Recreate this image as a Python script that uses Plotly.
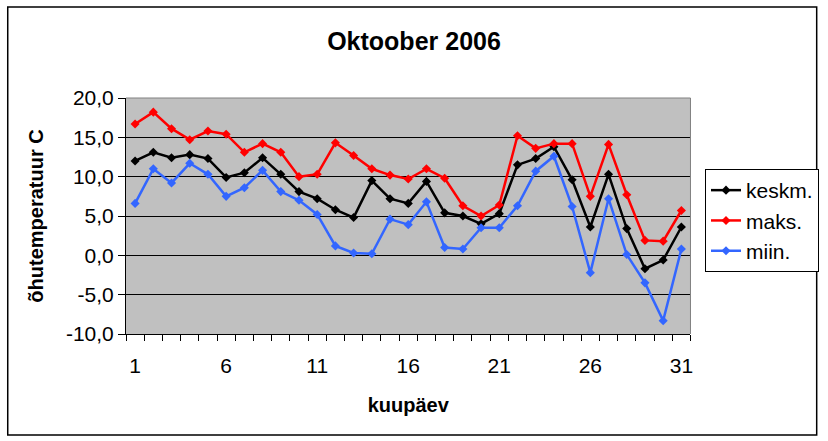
import plotly.graph_objects as go

# Oktoober 2006 - õhutemperatuur
paevad = list(range(1, 32))

keskm = [12.0, 13.1, 12.4, 12.8, 12.3, 9.9, 10.5, 12.4, 10.3, 8.1,
         7.2, 5.8, 4.8, 9.5, 7.2, 6.6, 9.4, 5.4, 5.0, 4.0,
         5.3, 11.5, 12.3, 13.8, 9.6, 3.6, 10.3, 3.4, -1.7, -0.6, 3.6]
maks = [16.7, 18.2, 16.1, 14.7, 15.8, 15.4, 13.1, 14.2, 13.1, 10.0,
        10.3, 14.3, 12.7, 11.0, 10.2, 9.7, 11.0, 9.8, 6.3, 5.0,
        6.4, 15.2, 13.6, 14.2, 14.2, 7.5, 14.1, 7.7, 1.9, 1.8, 5.7]
miin = [6.6, 11.0, 9.2, 11.7, 10.3, 7.5, 8.6, 10.8, 8.1, 7.0,
        5.2, 1.2, 0.3, 0.2, 4.6, 3.9, 6.8, 1.0, 0.8, 3.5,
        3.5, 6.3, 10.7, 12.6, 6.2, -2.2, 7.2, 0.1, -3.5, -8.3, 0.8]

y_ticks = [-10, -5, 0, 5, 10, 15, 20]
y_labels = [f"{v:.1f}".replace(".", ",") for v in y_ticks]
x_ticks = [1, 6, 11, 16, 21, 26, 31]

FONT = "Arial, Liberation Sans, sans-serif"

seeriad = [
    ("keskm.", keskm, "#000000"),
    ("maks.", maks, "#ff0000"),
    ("miin.", miin, "#3366ff"),
]

fig = go.Figure()
for nimi, vals, varv in seeriad:
    fig.add_trace(go.Scatter(
        x=paevad, y=vals, name=nimi, mode="lines+markers",
        line=dict(color=varv, width=2.5),
        marker=dict(symbol="diamond", size=7, color=varv),
    ))

fig.update_layout(
    width=828, height=441,
    margin=dict(l=126, r=134, t=98, b=107),
    paper_bgcolor="white",
    plot_bgcolor="#c0c0c0",
    font=dict(family=FONT, size=21, color="black"),
    title=dict(text="<b>Oktoober 2006</b>", x=0.5, xref="container",
               y=1 - 41 / 441, yref="container", xanchor="center", yanchor="middle",
               font=dict(size=25)),
    legend=dict(x=705 / 828, y=1 - 169 / 441, xref="container", yref="container",
                xanchor="left", yanchor="top", bordercolor="black", borderwidth=1,
                bgcolor="white", font=dict(size=21)),
    showlegend=True,
)

fig.update_xaxes(
    range=[0.5, 31.5], tickmode="array", tickvals=x_ticks, ticks="",
    showgrid=False, zeroline=False, showline=True, linecolor="black", linewidth=1,
    minor=dict(ticks="outside", tick0=0.5, dtick=1, ticklen=6, tickcolor="black", showgrid=False),
    ticklabelstandoff=13,
    title=dict(text="<b>kuupäev</b>", standoff=21, font=dict(size=20)),
)
fig.update_yaxes(
    range=[-10, 20], tickmode="array", tickvals=y_ticks, ticktext=y_labels,
    ticks="outside", ticklen=7, tickcolor="black",
    showgrid=True, gridcolor="black", gridwidth=1, zeroline=False,
    showline=True, linecolor="black", linewidth=1,
    title=dict(text="<b>õhutemperatuur C</b>", standoff=16, font=dict(size=20)),
)

# ülemine ja parem serv hall
fig.add_shape(type="line", xref="paper", yref="paper", x0=0, x1=1, y0=1, y1=1,
              line=dict(color="#808080", width=1))
fig.add_shape(type="line", xref="paper", yref="paper", x0=1, x1=1, y0=0, y1=1,
              line=dict(color="#808080", width=1))
# diagrammi raam
fig.add_shape(type="rect", xref="paper", yref="paper",
              x0=(7 - 126) / 568, x1=(821 - 126) / 568,
              y0=(334 - 435) / 236, y1=(334 - 7) / 236,
              line=dict(color="black", width=1.5), fillcolor="rgba(0,0,0,0)")

# lehe vaikimisi veeris ära
fig.write_html("out.html", config={"displayModeBar": False},
               post_script="document.body.style.margin='0';")
